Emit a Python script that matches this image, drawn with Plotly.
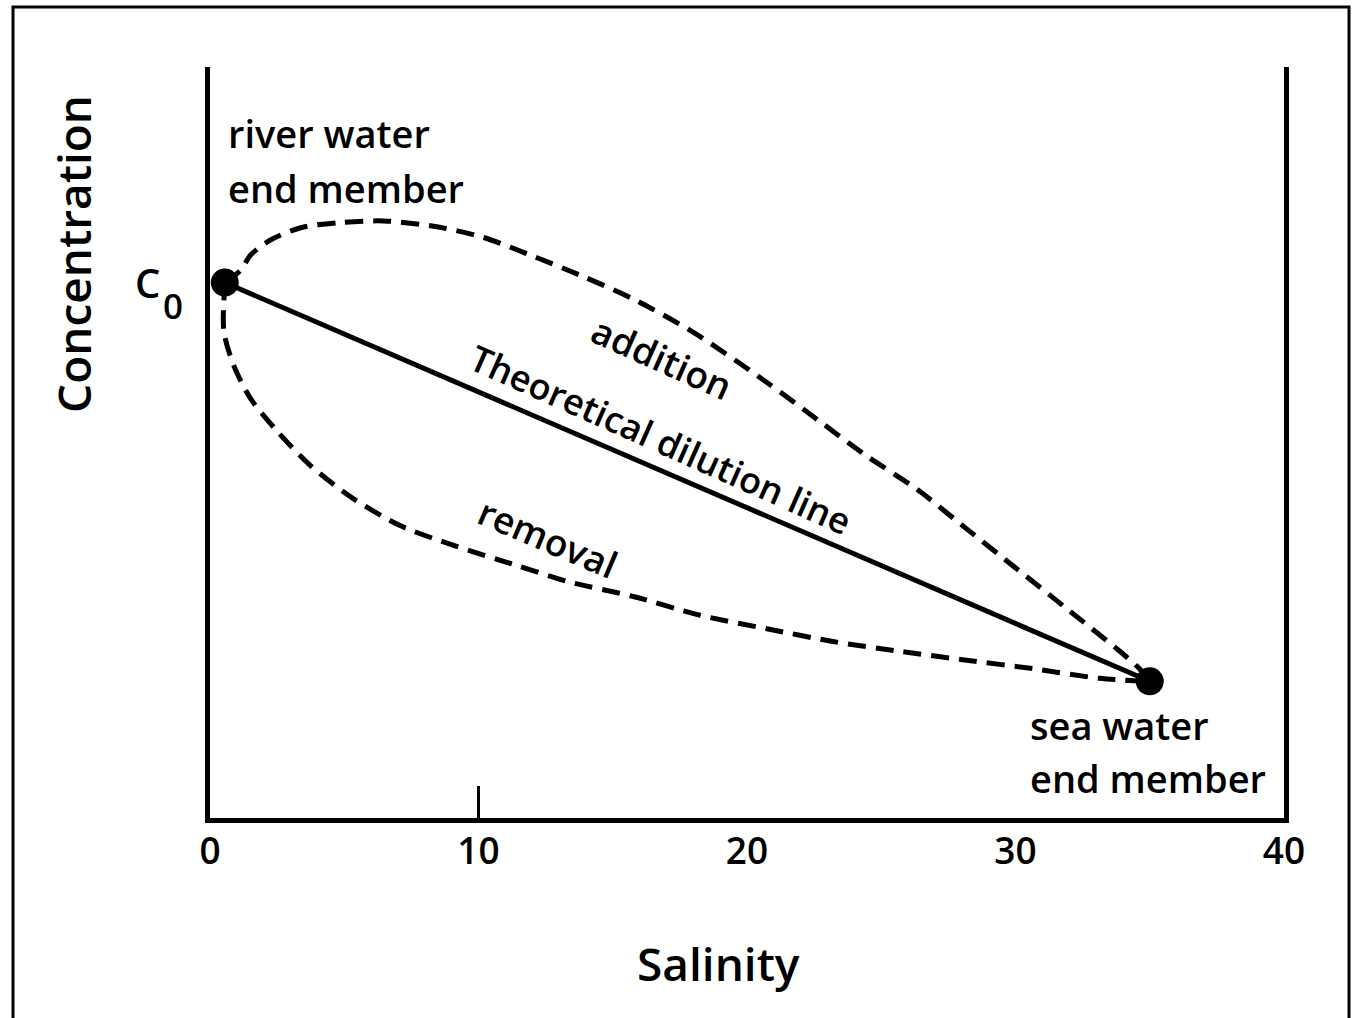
import plotly.graph_objects as go

# ---------------- data ----------------
salinity_ticks = [0, 10, 20, 30, 40]
salinity_tick_labels = ["0", "10", "20", "30", "40"]
marked_tick = [10]

end_member_salinity = [0.55, 35.0]
end_member_conc = [71.3, 18.2]

addition_salinity = [0.59, 1.15, 1.52, 2.27, 3.38, 4.87, 6.47, 8.33, 10.19, 12.04,
                     13.90, 15.76, 17.99, 20.74, 22.60, 24.46, 26.32, 28.18, 30.04,
                     31.90, 33.75, 34.61, 34.98]
addition_conc = [71.3, 73.0, 75.0, 77.0, 78.6, 79.3, 79.5, 78.8, 77.3, 74.8,
                 72.1, 69.1, 64.7, 58.0, 53.1, 48.2, 43.8, 38.5, 33.2,
                 27.9, 22.6, 19.9, 18.2]

removal_salinity = [0.59, 0.52, 0.52, 0.89, 1.52, 2.53, 3.75, 5.35, 7.10, 9.07,
                    11.45, 13.31, 15.76, 18.25, 20.74, 23.20, 25.69, 28.18, 30.63,
                    33.12, 34.98]
removal_conc = [71.3, 69.1, 64.7, 60.2, 55.8, 51.4, 46.9, 42.5, 38.9, 36.3,
                33.6, 31.5, 29.5, 27.0, 25.2, 23.5, 22.2, 21.0, 19.9,
                18.6, 18.2]

# ---------------- layout geometry ----------------
W, H = 1357, 1018
L, R, T, B = 210, 1284, 67, 818  # plot area in pixels
FONT = "Open Sans"
WEIGHT = 600


def px(xp):
    return (xp - L) / (R - L)


def py(yp):
    return (B - yp) / (B - T)


fig = go.Figure()

dash = "18px,10px"
fig.add_trace(go.Scatter(x=addition_salinity, y=addition_conc, mode="lines",
                         line=dict(color="black", width=5, dash=dash, shape="spline", smoothing=0.8),
                         hoverinfo="skip", showlegend=False))
fig.add_trace(go.Scatter(x=removal_salinity, y=removal_conc, mode="lines",
                         line=dict(color="black", width=5, dash=dash, shape="spline", smoothing=0.8),
                         hoverinfo="skip", showlegend=False))
fig.add_trace(go.Scatter(x=end_member_salinity, y=end_member_conc, mode="lines+markers",
                         line=dict(color="black", width=5),
                         marker=dict(color="black", size=28),
                         hoverinfo="skip", showlegend=False))


def ann(text, xp, yp, size, angle=0, xanchor="center", yanchor="middle"):
    fig.add_annotation(text=text, x=px(xp), y=py(yp), xref="paper", yref="paper",
                       showarrow=False, textangle=angle, xanchor=xanchor, yanchor=yanchor,
                       font=dict(family=FONT, size=size, color="black", weight=WEIGHT))


ann("river water", 226, 133, 38, xanchor="left")
ann("end member", 226, 188, 38, xanchor="left")
ann("sea water", 1028, 725, 38, xanchor="left")
ann("end member", 1028, 778, 38, xanchor="left")
ann("C", 133, 282, 40, xanchor="left")
ann("0", 161, 305, 35, xanchor="left")
ann("addition", 662, 357, 37, angle=24)
ann("Theoretical dilution line", 661, 439, 36, angle=24)
ann("removal", 548, 537, 37, angle=23)
ann("Salinity", 718, 963, 46)
ann("Concentration", 73, 254, 46, angle=-90)

# outer frame
fig.add_shape(type="rect", xref="paper", yref="paper",
              x0=px(13), x1=px(1349), y0=py(1030), y1=py(7),
              line=dict(color="black", width=3), fillcolor="rgba(0,0,0,0)")

fig.update_layout(
    width=W, height=H,
    margin=dict(l=L, r=W - R, t=T, b=H - B, pad=0),
    paper_bgcolor="white", plot_bgcolor="white",
    showlegend=False,
    xaxis=dict(range=[0, 40], showgrid=False, zeroline=False,
               showline=True, linecolor="black", linewidth=5, mirror=False,
               tickvals=salinity_ticks, ticktext=salinity_tick_labels, ticks="",
               tickfont=dict(family=FONT, size=37, color="black", weight=WEIGHT),
               ticklabelstandoff=-3,
               minor=dict(tickvals=marked_tick, ticks="inside", ticklen=32,
                          tickwidth=3, tickcolor="black", showgrid=False)),
    yaxis=dict(range=[0, 100], showgrid=False, zeroline=False,
               showline=True, linecolor="black", linewidth=5, mirror=True,
               showticklabels=False, ticks=""),
)

fig.write_html("out.html")
